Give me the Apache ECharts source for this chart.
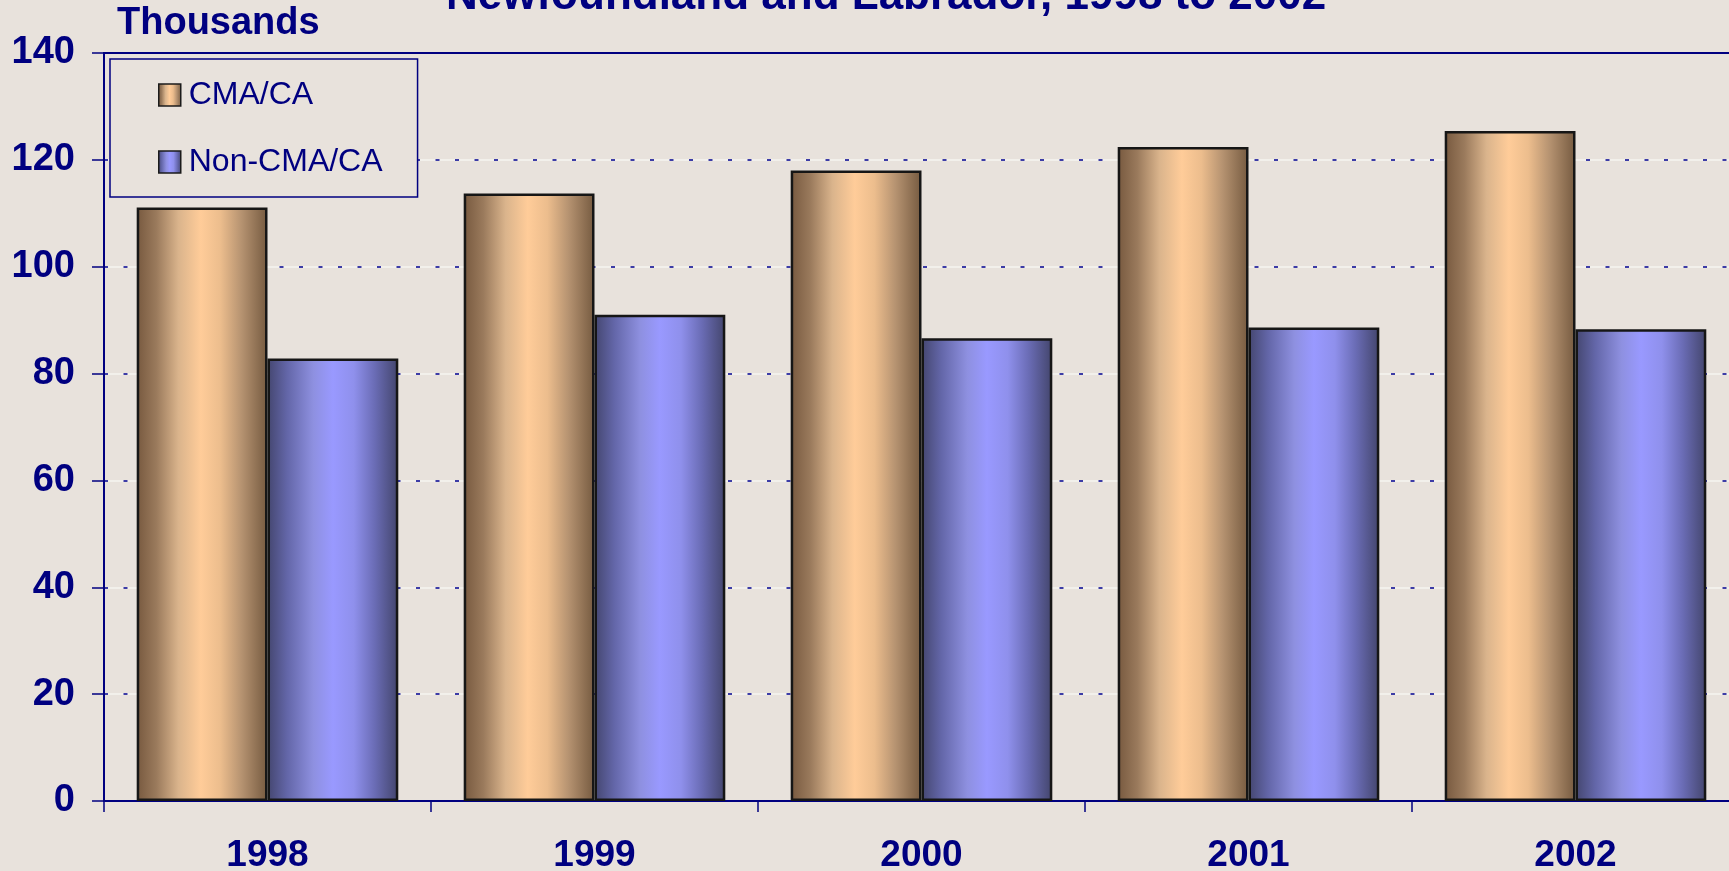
<!DOCTYPE html>
<html>
<head>
<meta charset="utf-8">
<title>Newfoundland and Labrador, 1998 to 2002</title>
<script src="https://cdn.jsdelivr.net/npm/echarts@6/dist/echarts.min.js"></script>
<style>
    html, body { margin: 0; padding: 0; background: #e8e2dc; }
    #chart { width: 1729px; height: 871px; }
</style>
</head>
<body>
<div id="chart"></div>
<script>
// chart data
const years = ['1998', '1999', '2000', '2001', '2002'];
const cmaValues = [111.1, 113.7, 118.0, 122.4, 125.4];
const nonCmaValues = [82.8, 91.0, 86.6, 88.6, 88.3];
const seriesNames = ['CMA/CA', 'Non-CMA/CA'];
const yMin = 0;
const yMax = 140;
const yStep = 20;

const navy = '#000080';
const font = '"Liberation Sans", Arial, sans-serif';

// cylinder-like shading, like the old Excel chart
const cmaFill = new echarts.graphic.LinearGradient(0, 0, 1, 0, [
    { offset: 0, color: '#77593f' },
    { offset: 0.15, color: '#9a7a5c' },
    { offset: 0.32, color: '#dab48c' },
    { offset: 0.49, color: '#ffcc99' },
    { offset: 0.64, color: '#ecbd8d' },
    { offset: 0.8, color: '#b69371' },
    { offset: 1, color: '#755a40' }
]);
const nonCmaFill = new echarts.graphic.LinearGradient(0, 0, 1, 0, [
    { offset: 0, color: '#44466f' },
    { offset: 0.15, color: '#6366a8' },
    { offset: 0.35, color: '#8e90e0' },
    { offset: 0.5, color: '#9999ff' },
    { offset: 0.66, color: '#8f90ec' },
    { offset: 0.82, color: '#6a6cb5' },
    { offset: 1, color: '#43456c' }
]);

const chart = echarts.init(document.getElementById('chart'));

const option = {
    backgroundColor: '#e8e2dc',
    animation: false,
    title: [{
        text: 'Newfoundland and Labrador, 1998 to 2002',
        left: 446,
        top: -25,
        padding: 0,
        textStyle: { color: navy, fontFamily: font, fontSize: 44, fontWeight: 'bold' }
    }, {
        text: 'Thousands',
        left: 117,
        top: 5,
        padding: 0,
        textStyle: { color: navy, fontFamily: font, fontSize: 38, fontWeight: 'bold' }
    }],
    legend: {
        orient: 'vertical',
        left: 110,
        top: 59,
        padding: [20, 35, 19, 48],
        itemGap: 35,
        itemWidth: 22,
        itemHeight: 22,
        icon: 'rect',
        backgroundColor: '#e8e2dc',
        borderColor: navy,
        borderWidth: 1.5,
        itemStyle: { borderColor: '#1b1b1b', borderWidth: 1.5 },
        textStyle: { color: navy, fontFamily: font, fontSize: 32, padding: [0, 0, 0, 3] },
        data: seriesNames
    },
    grid: {
        // plot runs a little past the right edge of the picture
        left: 104,
        top: 53,
        width: 1635,
        bottom: 70,
        outerBoundsMode: 'none',
        show: true,
        borderColor: navy,
        borderWidth: 2,
        backgroundColor: 'transparent'
    },
    xAxis: {
        type: 'category',
        data: years,
        axisLine: { lineStyle: { color: navy, width: 2 } },
        axisTick: { show: true, length: 11, lineStyle: { color: navy, width: 1.5 } },
        axisLabel: { color: navy, fontFamily: font, fontSize: 37, fontWeight: 'bold', margin: 36 }
    },
    yAxis: [{
        // light underlay for the grid lines
        type: 'value',
        position: 'left',
        min: yMin,
        max: yMax,
        interval: yStep,
        z: 0,
        axisLine: { show: false },
        axisTick: { show: false },
        axisLabel: { show: false },
        splitLine: {
            show: true,
            showMinLine: false,
            showMaxLine: false,
            lineStyle: { color: '#f6f4f1', width: 1.5 }
        }
    }, {
        type: 'value',
        position: 'left',
        min: yMin,
        max: yMax,
        interval: yStep,
        z: 1,
        axisLine: { show: true, lineStyle: { color: navy, width: 2 } },
        axisTick: { show: true, length: 12, lineStyle: { color: navy, width: 1.5 } },
        axisLabel: {
            color: navy, fontFamily: font, fontSize: 38, fontWeight: 'bold',
            margin: 29, padding: [8, 0, 0, 0]
        },
        splitLine: {
            show: true,
            showMinLine: false,
            showMaxLine: false,
            lineStyle: { color: '#3c3ca6', width: 2, type: [4, 15.5] }
        }
    }],
    series: [{
        name: seriesNames[0],
        type: 'bar',
        yAxisIndex: 1,
        data: cmaValues,
        barGap: 0,
        barCategoryGap: '20%',
        itemStyle: { color: cmaFill, borderColor: '#161616', borderWidth: 2.5 },
        z: 3
    }, {
        name: seriesNames[1],
        type: 'bar',
        yAxisIndex: 1,
        data: nonCmaValues,
        barGap: 0,
        barCategoryGap: '20%',
        itemStyle: { color: nonCmaFill, borderColor: '#161616', borderWidth: 2.5 },
        z: 3
    }]
};

chart.setOption(option);
</script>
</body>
</html>
